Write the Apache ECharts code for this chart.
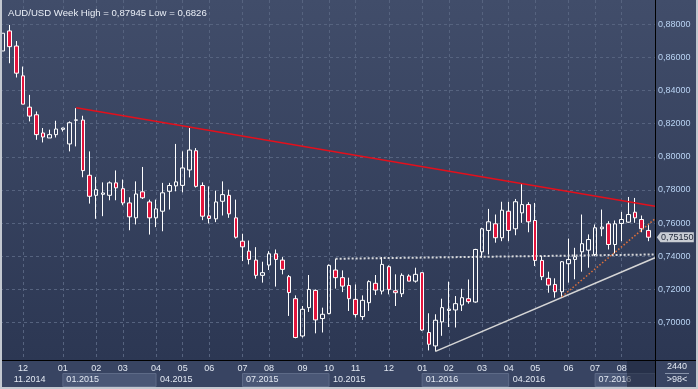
<!DOCTYPE html>
<html><head><meta charset="utf-8">
<script src="https://cdn.jsdelivr.net/npm/echarts@6/dist/echarts.min.js"></script>
<style>html,body{margin:0;padding:0;background:#2d3854}#c{width:698px;height:389px}</style>
</head><body><div id="c"></div>
<script>
// Weekly AUD/USD candles (index = week number)
const opens  = [0.8639,0.8760,0.8669,0.8489,0.8300,0.8254,0.8144,0.8114,0.8134,0.8166,
                0.8078,0.8221,0.8222,0.7889,0.7768,0.7774,0.7768,0.7843,0.7808,0.7722,
                0.7632,0.7789,0.7728,0.7632,0.7672,0.7792,0.7825,0.7828,0.7921,0.8037,
                0.7827,0.7644,0.7626,0.7732,0.7768,0.7632,0.7491,0.7431,0.7377,0.7285,
                0.7347,0.7415,0.7377,0.7277,0.7144,0.6919,0.7090,0.7194,0.7024,0.7054,
                0.7317,0.7271,0.7224,0.7140,0.7036,0.7120,0.7237,0.7190,0.7337,0.7192,
                0.7174,0.7281,0.7250,0.7301,0.6940,0.6859,0.7004,0.7073,0.7076,0.7106,
                0.7144,0.7124,0.7427,0.7556,0.7596,0.7512,0.7672,0.7566,0.7662,0.7712,
                0.7616,0.7375,0.7267,0.7230,0.7186,0.7355,0.7381,0.7427,0.7437,0.7411,
                0.7566,0.7596,0.7471,0.7598,0.7606,0.7666,0.7622,0.7556];
const closes = [0.8746,0.8665,0.8505,0.8318,0.8246,0.8134,0.8120,0.8134,0.8168,0.8174,
                0.8206,0.8223,0.7917,0.7762,0.7802,0.7782,0.7843,0.7813,0.7722,0.7638,
                0.7776,0.7753,0.7632,0.7686,0.7783,0.7827,0.7849,0.7933,0.8041,0.7822,
                0.7642,0.7628,0.7728,0.7772,0.7656,0.7515,0.7457,0.7381,0.7285,0.7301,
                0.7415,0.7381,0.7321,0.7181,0.6910,0.7080,0.7200,0.7016,0.7050,0.7345,
                0.7271,0.7220,0.7144,0.7048,0.7134,0.7247,0.7196,0.7351,0.7200,0.7180,
                0.7285,0.7250,0.7291,0.6955,0.6869,0.7014,0.7090,0.7081,0.7114,0.7150,
                0.7126,0.7441,0.7566,0.7608,0.7512,0.7678,0.7556,0.7729,0.7712,0.7608,
                0.7375,0.7277,0.7226,0.7186,0.7367,0.7381,0.7397,0.7476,0.7501,0.7572,
                0.7576,0.7471,0.7596,0.7622,0.7652,0.7632,0.7566,0.7515];
const lows   = [0.8639,0.8565,0.8479,0.8318,0.8214,0.8103,0.8087,0.8114,0.8117,0.8153,
                0.8033,0.8063,0.7877,0.7718,0.7626,0.7642,0.7738,0.7738,0.7708,0.7557,
                0.7592,0.7746,0.7531,0.7576,0.7551,0.7682,0.7792,0.7786,0.7876,0.7815,
                0.7618,0.7598,0.7606,0.7646,0.7632,0.7507,0.7371,0.7351,0.7265,0.7241,
                0.7317,0.7217,0.7291,0.7040,0.6905,0.6910,0.7064,0.6935,0.6940,0.7050,
                0.7205,0.7184,0.7070,0.7030,0.7016,0.7070,0.7166,0.7170,0.7170,0.7100,
                0.7154,0.7250,0.7241,0.6950,0.6832,0.6826,0.6920,0.6973,0.6970,0.7070,
                0.7114,0.7120,0.7391,0.7411,0.7482,0.7491,0.7491,0.7527,0.7602,0.7545,
                0.7341,0.7256,0.7180,0.7150,0.7156,0.7241,0.7261,0.7307,0.7331,0.7401,
                0.7521,0.7441,0.7417,0.7491,0.7602,0.7602,0.7545,0.7491];
const highs  = [0.8746,0.8796,0.8699,0.8545,0.8374,0.8274,0.8174,0.8164,0.8218,0.8176,
                0.8214,0.8294,0.8248,0.8033,0.7879,0.7846,0.7852,0.7918,0.7863,0.7756,
                0.7852,0.7939,0.7742,0.7742,0.7843,0.7843,0.8078,0.8033,0.8174,0.8053,
                0.7846,0.7822,0.7796,0.7852,0.7802,0.7742,0.7536,0.7495,0.7455,0.7367,
                0.7431,0.7441,0.7395,0.7287,0.7164,0.7100,0.7287,0.7200,0.7090,0.7351,
                0.7385,0.7315,0.7271,0.7230,0.7164,0.7255,0.7287,0.7395,0.7345,0.7291,
                0.7297,0.7291,0.7331,0.7301,0.7056,0.7050,0.7144,0.7247,0.7160,0.7204,
                0.7260,0.7445,0.7572,0.7686,0.7652,0.7729,0.7729,0.7746,0.7838,0.7726,
                0.7722,0.7401,0.7307,0.7267,0.7371,0.7507,0.7451,0.7652,0.7532,0.7592,
                0.7682,0.7612,0.7616,0.7668,0.7758,0.7752,0.7646,0.7592];

const monthTickIdx = [3, 9, 14, 18, 23, 27, 31, 36, 40, 45, 49, 53, 58, 63, 67, 72, 76, 80, 85, 89, 93];
const monthLabels  = ['12','01','02','03','04','05','06','07','08','09','10','11','12','01','02','03','04','05','06','07','08'];
const quarterStartIdx = [1, 9, 23, 36, 49, 63, 76, 89];
const quarterEndIdx   = [9, 23, 36, 49, 63, 76, 89, 98];
const quarterLabels   = ['11.2014','01.2015','04.2015','07.2015','10.2015','01.2016','04.2016','07.2016'];
const priceTicks = [0.70, 0.72, 0.74, 0.76, 0.78, 0.80, 0.82, 0.84, 0.86, 0.88];

const resistanceLine = [[11, 0.8296], [98, 0.7702]];
const neckLine       = [[50, 0.7385], [98, 0.7411]];
const supportLine    = [[65, 0.6826], [98, 0.7391]];
const shortSupport   = [[84, 0.7156], [98, 0.7626]];
const lastPrice = 0.7515;

const FONT = 'Liberation Sans, Arial, sans-serif';
const chart = echarts.init(document.getElementById('c'), null, {renderer: 'canvas'});
const fmtPrice = v => v.toFixed(5).replace('.', ',');

chart.setOption({
  animation: false,
  backgroundColor: {type: 'linear', x: 0, y: 0, x2: 0, y2: 1, colorStops: [
    {offset: 0, color: '#414d6a'}, {offset: 0.926, color: '#2c3753'},
    {offset: 0.927, color: '#384462'}, {offset: 1, color: '#384462'}]},
  title: {text: 'AUD/USD Week High = 0,87945 Low = 0,6826', left: 3, top: 3,
    textStyle: {color: '#e9eef6', fontSize: 9.6, fontWeight: 'normal', fontFamily: FONT}},
  grid: [
    {left: 0, right: 43, top: 0, bottom: 28.3},
    {left: 0, right: 43, top: 373.5, height: 13}
  ],
  xAxis: [
    {type: 'value', gridIndex: 0, min: -0.45, max: 98,
     axisLine: {show: false},
     axisTick: {show: false, customValues: monthTickIdx},
     axisLabel: {customValues: monthTickIdx, formatter: v => monthLabels[monthTickIdx.indexOf(v)],
       color: '#e2e8f2', fontSize: 9, fontFamily: FONT, margin: 3},
     splitLine: {show: true, lineStyle: {color: '#56637f', type: [3, 3], width: 1}}},
    {type: 'value', gridIndex: 1, min: -0.45, max: 98, show: false}
  ],
  yAxis: [
    {type: 'value', gridIndex: 0, position: 'right', min: 0.67698, max: 0.894665,
     axisLine: {show: false},
     axisTick: {show: false, customValues: priceTicks},
     axisLabel: {customValues: priceTicks, formatter: fmtPrice, color: '#b9d3f3', fontSize: 9,
       fontFamily: FONT, margin: 3},
     splitLine: {show: true, lineStyle: {color: '#56637f', type: [3, 3], width: 1}}},
    {type: 'value', gridIndex: 1, min: 0, max: 1, show: false}
  ],
  series: [
    {type: 'candlestick', xAxisIndex: 0, yAxisIndex: 0, barWidth: 4,
     encode: {x: 0, y: [1, 2, 3, 4]},
     data: opens.map((o, i) => [i, o, closes[i], lows[i], highs[i]]),
     itemStyle: {color: 'rgba(0,0,0,0)', color0: '#e3143c', borderColor: '#ffffff',
       borderColor0: '#ffffff', borderWidth: 1}},
    {type: 'line', data: resistanceLine, symbol: 'none', silent: true, z: 5,
     lineStyle: {color: '#e3101c', width: 1.5},
     markPoint: {silent: true, symbol: 'path://M0,5L4,0L40,0L40,10L4,10Z', symbolSize: [37, 10],
       symbolKeepAspect: false, symbolOffset: [21, 0], itemStyle: {color: '#c9cdd4'},
       label: {show: true, position: 'inside', formatter: fmtPrice(lastPrice), color: '#1c2436',
         fontSize: 9, fontFamily: FONT, offset: [2, 0]},
       data: [{coord: [97.9, lastPrice]}]}},
    {type: 'line', data: neckLine, symbol: 'none', silent: true, z: 5,
     lineStyle: {color: 'rgba(232,232,232,0.9)', width: 2, type: [2, 2]}},
    {type: 'line', data: supportLine, symbol: 'none', silent: true, z: 5,
     lineStyle: {color: '#d6d6d6', width: 1.5}},
    {type: 'line', data: shortSupport, symbol: 'none', silent: true, z: 5,
     lineStyle: {color: '#e0703a', width: 1.5, type: [1.5, 2]}},
    {type: 'line', xAxisIndex: 1, yAxisIndex: 1, data: [], silent: true,
     markArea: {silent: true,
       label: {position: 'insideLeft', distance: 4, color: '#e2e8f2', fontSize: 9, fontFamily: FONT},
       data: quarterLabels.map((q, i) => [
         {name: q, xAxis: quarterStartIdx[i], yAxis: 0,
          itemStyle: i % 2 === 1 ? {color: '#4a5776', borderColor: '#5d6a87', borderWidth: 1}
                                 : {color: 'rgba(0,0,0,0)'}},
         {xAxis: quarterEndIdx[i], yAxis: 1}])}}
  ],
  graphic: [
    {type: 'rect', shape: {x: 627, y: 361, width: 28, height: 26}, style: {fill: 'rgba(22,30,50,0.5)'}, z: 100},
    {type: 'line', shape: {x1: 0, y1: 360.5, x2: 698, y2: 360.5}, style: {stroke: '#000', lineWidth: 1}, z: 100},
    {type: 'line', shape: {x1: 655.5, y1: 0, x2: 655.5, y2: 389}, style: {stroke: '#000', lineWidth: 1}, z: 100},
    {type: 'text', x: 677, y: 367, style: {text: '2440', fill: '#e2e8f2', font: '9px ' + FONT, textAlign: 'center', textVerticalAlign: 'middle'}, z: 100},
    {type: 'line', shape: {x1: 665, y1: 373.5, x2: 689, y2: 373.5}, style: {stroke: '#8793aa', lineWidth: 1}, z: 100},
    {type: 'text', x: 677, y: 380, style: {text: '>98<', fill: '#e2e8f2', font: '9px ' + FONT, textAlign: 'center', textVerticalAlign: 'middle'}, z: 100},
    {type: 'rect', shape: {x: 0, y: 0, width: 2, height: 389}, style: {fill: '#c3c8d0'}, z: 101},
    {type: 'rect', shape: {x: 0, y: 387, width: 698, height: 2}, style: {fill: '#c3c8d0'}, z: 101},
    {type: 'rect', shape: {x: 696, y: 0, width: 2, height: 389}, style: {fill: '#c3c8d0'}, z: 101}
  ]
});
</script></body></html>
